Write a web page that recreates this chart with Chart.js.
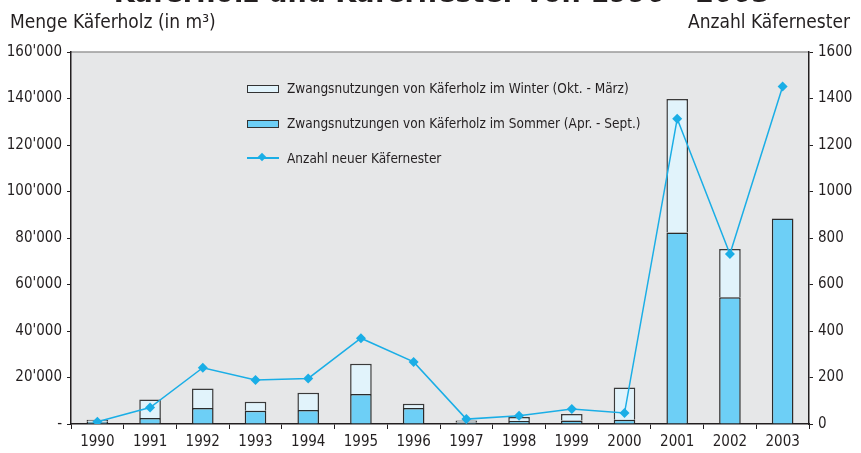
<!DOCTYPE html>
<html>
<head>
<meta charset="utf-8">
<script src="https://cdn.jsdelivr.net/npm/chart.js@4"></script>
<style>
  html, body { margin: 0; padding: 0; background: #fff; overflow: hidden; }
  #wrap { position: relative; width: 861px; height: 453px; font-family: "Liberation Sans Narrow", "DejaVu Sans Condensed", sans-serif; color: #231f20; }
  #chart { position: absolute; left: 0; top: 0; }
  .txt { position: absolute; white-space: nowrap; }
  #title { top: -23px; left: 0; width: 884px; text-align: center; font-size: 30px; line-height: 30px; font-weight: bold; }
  #ytitle { left: 10px; top: 8px; font-size: 19px; line-height: 26px; }
  #y1title { right: 11px; top: 8px; font-size: 19px; line-height: 26px; }
  #legend { position: absolute; left: 247px; top: 79px; font-size: 13.5px; }
  #legend .row { position: relative; height: 35px; line-height: 18px; width: 420px; }
  #legend .sw { position: absolute; left: 0; top: 6px; width: 30px; height: 6px; border: 1px solid #333; }
  #legend .ln { position: absolute; left: 0; top: 8px; width: 32px; height: 2px; }
  #legend .dm { position: absolute; left: 12px; top: 5px; width: 6px; height: 6px; transform: rotate(45deg); }
  #legend .lab { position: absolute; left: 40px; top: 0; white-space: nowrap; }
</style>
</head>
<body>
<div id="wrap">
  <canvas id="chart" width="861" height="453"></canvas>
  <div class="txt" id="title">Käferholz und Käfernester von 1990 - 2003</div>
  <div class="txt" id="ytitle">Menge Käferholz (in m³)</div>
  <div class="txt" id="y1title">Anzahl Käfernester</div>
  <div id="legend"></div>
</div>
<script>
const years = ["1990", "1991", "1992", "1993", "1994", "1995", "1996", "1997", "1998", "1999", "2000", "2001", "2002", "2003"];
// m3, summer part at the bottom, winter part stacked on top
const sommer = [1000, 2600, 6900, 5700, 6000, 12900, 6900, 600, 1300, 1500, 1800, 82400, 54500, 88400];
const winter = [800, 7900, 8400, 3900, 7400, 13000, 1800, 900, 1700, 2800, 13900, 57400, 20800, null];
const nester = [10, 71, 242, 189, 196, 369, 267, 21, 36, 64, 47, 1313, 731, 1452];

const fontFam = '"Liberation Sans Narrow", "DejaVu Sans Condensed", sans-serif';
const ink = "#231f20";
const blue = "#1aaee6";

// grey plot background and the thin grey line on top
const plotBg = {
  id: "plotBg",
  beforeDraw(chart) {
    const { ctx, chartArea: a } = chart;
    ctx.save();
    ctx.fillStyle = "#e6e7e8";
    ctx.fillRect(a.left, a.top, a.right - a.left, a.bottom - a.top);
    ctx.strokeStyle = "#9a9a9a";
    ctx.lineWidth = 1.5;
    ctx.beginPath();
    ctx.moveTo(a.left, a.top);
    ctx.lineTo(a.right, a.top);
    ctx.stroke();
    ctx.restore();
  },
};

const ctx = document.getElementById("chart").getContext("2d");
const chart = new Chart(ctx, {
  data: {
    labels: years,
    datasets: [
      {
        type: "line",
        label: "Anzahl neuer Käfernester",
        data: nester,
        yAxisID: "y1",
        borderColor: blue,
        backgroundColor: blue,
        borderWidth: 1.5,
        pointStyle: "rectRot",
        pointRadius: 5,
        pointBorderWidth: 0,
        tension: 0,
        order: 0,
      },
      {
        type: "bar",
        label: "Zwangsnutzungen von Käferholz im Sommer (Apr. - Sept.)",
        data: sommer,
        yAxisID: "y",
        backgroundColor: "#6dcff6",
        borderColor: "#2b2b2b",
        borderWidth: 1.5,
        order: 1,
      },
      {
        type: "bar",
        label: "Zwangsnutzungen von Käferholz im Winter (Okt. - März)",
        data: winter,
        yAxisID: "y",
        backgroundColor: "#e1f3fb",
        borderColor: "#3a3a3a",
        borderWidth: 1.5,
        order: 2,
      },
    ],
  },
  options: {
    responsive: false,
    animation: false,
    datasets: {
      bar: { categoryPercentage: 1, barPercentage: 0.41 },
    },
    layout: { padding: { top: 52, left: 0, right: 0, bottom: 0 } },
    plugins: {
      legend: { display: false },
      tooltip: { enabled: false },
    },
    scales: {
      x: {
        stacked: true,
        offset: true,
        grid: { drawOnChartArea: false, offset: true, tickLength: 5, color: ink, tickColor: ink },
        border: { color: ink, width: 1.5 },
        ticks: { color: ink, font: { family: fontFam, size: 15 }, padding: 4, maxRotation: 0 },
        afterFit(s) { s.height = 29; },
      },
      y: {
        stacked: true,
        position: "left",
        min: 0,
        max: 160000,
        grid: { drawOnChartArea: false, tickLength: 4, tickColor: ink },
        border: { color: ink, width: 1.5 },
        ticks: {
          stepSize: 20000,
          color: ink,
          padding: 5,
          font: { family: fontFam, size: 15 },
          callback: (v) => (v === 0 ? "-" : String(v / 1000) + "'000"),
        },
        afterFit(s) { s.width = 71; },
      },
      y1: {
        position: "right",
        min: 0,
        max: 1600,
        grid: { drawOnChartArea: false, tickLength: 4, tickColor: ink },
        border: { color: ink, width: 1.5 },
        ticks: {
          stepSize: 200,
          color: ink,
          padding: 5,
          font: { family: fontFam, size: 15 },
          callback: (v) => String(v),
        },
        afterFit(s) { s.width = 52; },
      },
    },
  },
  plugins: [plotBg],
});

// legend built from the datasets (winter, summer, line)
const legend = document.getElementById("legend");
[2, 1, 0].forEach((i) => {
  const ds = chart.data.datasets[i];
  const row = document.createElement("div");
  row.className = "row";
  if (ds.type === "bar") {
    row.innerHTML = '<div class="sw" style="background:' + ds.backgroundColor + '"></div>';
  } else {
    row.innerHTML = '<div class="ln" style="background:' + ds.borderColor + '"></div>' +
      '<div class="dm" style="background:' + ds.borderColor + '"></div>';
  }
  const lab = document.createElement("div");
  lab.className = "lab";
  lab.textContent = ds.label;
  row.appendChild(lab);
  legend.appendChild(row);
});
</script>
</body>
</html>
